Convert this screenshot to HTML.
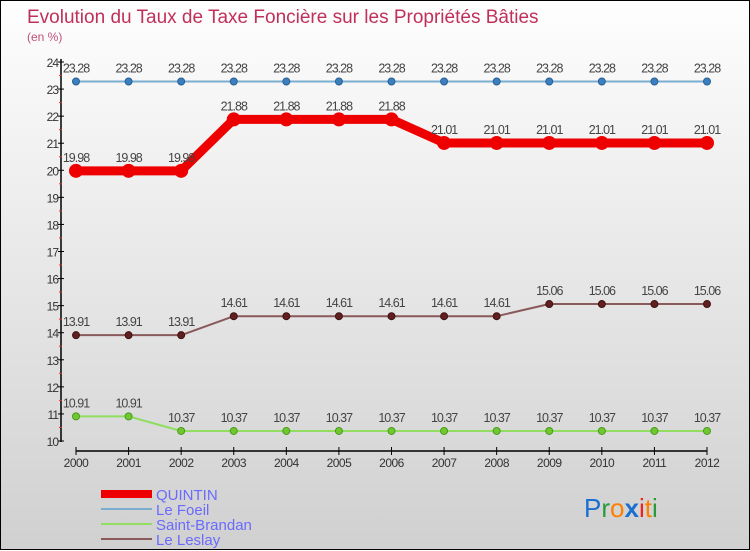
<!DOCTYPE html>
<html><head><meta charset="utf-8"><style>
html,body{margin:0;padding:0}
body{width:750px;height:550px;overflow:hidden;font-family:"Liberation Sans",sans-serif}
#wrap{position:relative;width:748px;height:548px;border:1px solid #000;background:linear-gradient(#fefefe,#d0d0d0)}
svg{position:absolute;left:0;top:0}
</style></head><body>
<div id="wrap">
<svg id="chart" width="750" height="550">
<text x="26" y="22" font-size="19" fill="#c0305a">Evolution du Taux de Taxe Foncière sur les Propriétés Bâties</text>
<text x="26" y="40" font-size="12" fill="#c0507a">(en %)</text>
<g id="axes"></g><g id="series"></g>
<g>
<rect x="100" y="489" width="51" height="8" fill="#ee0000"/>
<text x="155" y="499" font-size="15" fill="#6a6aff">QUINTIN</text>
<rect x="100" y="507" width="51" height="2" fill="#7aaed0"/>
<text x="155" y="514" font-size="15" fill="#6a6aff">Le Foeil</text>
<rect x="100" y="522" width="51" height="2" fill="#90dd60"/>
<text x="155" y="529" font-size="15" fill="#6a6aff">Saint-Brandan</text>
<rect x="100" y="537" width="51" height="2" fill="#8a5a5a"/>
<text x="155" y="544" font-size="15" fill="#6a6aff">Le Leslay</text>
</g>
<g font-size="26">
<text x="583" y="516"><tspan fill="#1a6fd0">P</tspan><tspan fill="#2a9a3a">r</tspan><tspan fill="#ff8000">o</tspan><tspan fill="#1a6fd0" font-weight="bold">x</tspan><tspan fill="#ee2222">i</tspan><tspan fill="#ff8000">t</tspan><tspan fill="#2a9a3a">i</tspan></text>
</g>
</svg>
</div>
<script>
const years=[2000,2001,2002,2003,2004,2005,2006,2007,2008,2009,2010,2011,2012];
const quintin=[19.98,19.98,19.98,21.88,21.88,21.88,21.88,21.01,21.01,21.01,21.01,21.01,21.01];
const leFoeil=[23.28,23.28,23.28,23.28,23.28,23.28,23.28,23.28,23.28,23.28,23.28,23.28,23.28];
const saintBrandan=[10.91,10.91,10.37,10.37,10.37,10.37,10.37,10.37,10.37,10.37,10.37,10.37,10.37];
const leLeslay=[13.91,13.91,13.91,14.61,14.61,14.61,14.61,14.61,14.61,15.06,15.06,15.06,15.06];
const yTicks=[10,11,12,13,14,15,16,17,18,19,20,21,22,23,24];
const NS="http://www.w3.org/2000/svg";
function xs(i){return 75+i*(706-75)/(years.length-1);}
function ys(v){return 440-(v-10)*(440-61)/14;}
function mk(t,a,p){const e=document.createElementNS(NS,t);for(const k in a)e.setAttribute(k,a[k]);p.appendChild(e);return e;}
const ax=document.getElementById('axes');
let l=mk('line',{x1:60,y1:58,x2:60,y2:441,stroke:'#000','stroke-width':1.5},ax);


l=mk('line',{x1:75,y1:450,x2:706,y2:450,stroke:'#000','stroke-width':1.5},ax);


yTicks.forEach((v,i)=>{
 mk('line',{x1:57,y1:ys(v),x2:63,y2:ys(v),stroke:'#000'},ax);
 if(i<yTicks.length-1)mk('line',{x1:58,y1:ys(v+0.5),x2:61,y2:ys(v+0.5),stroke:'#e03030'},ax);
 const t=mk('text',{x:57,y:ys(v)+5,'font-size':12,fill:'#333','text-anchor':'end','letter-spacing':'-1'},ax);
 t.textContent=v;
 
 
});
years.forEach((y,i)=>{
 mk('line',{x1:xs(i),y1:446,x2:xs(i),y2:454,stroke:'#000'},ax);
 const t=mk('text',{x:xs(i),y:466,'font-size':12,fill:'#333','text-anchor':'middle','letter-spacing':'-0.5'},ax);
 t.textContent=y;
 
 
});
const sg=document.getElementById('series');
function draw(vals,name,color,w,r,dot,stroke){
 const g=mk('g',{},sg);
 
 
 const p=mk('polyline',{points:vals.map((v,i)=>xs(i)+','+ys(v)).join(' '),fill:'none',stroke:color,'stroke-width':w,'stroke-linejoin':'round'},g);
 
 
 vals.forEach((v,i)=>{
  const c=mk('circle',{cx:xs(i),cy:ys(v),r:r,fill:dot,stroke:stroke,'stroke-width':1},g);
  
  
  const t=mk('text',{x:xs(i),y:ys(v)-9,'font-size':12.5,fill:'#444','text-anchor':'middle','letter-spacing':'-1'},g);
  t.textContent=v.toFixed(2);
  
  
 });
}
draw(leFoeil,'le-foeil','#7aaed0',2,3.5,'#3a80c0','#2a6090');
draw(saintBrandan,'saint-brandan','#90dd60',2,3.5,'#70c830','#4a9a20');
draw(leLeslay,'le-leslay','#8a5a5a',2,3.5,'#602020','#401010');
draw(quintin,'quintin','#ee0000',9,6.5,'#ee0000','#ee0000');
</script>
</body></html>
